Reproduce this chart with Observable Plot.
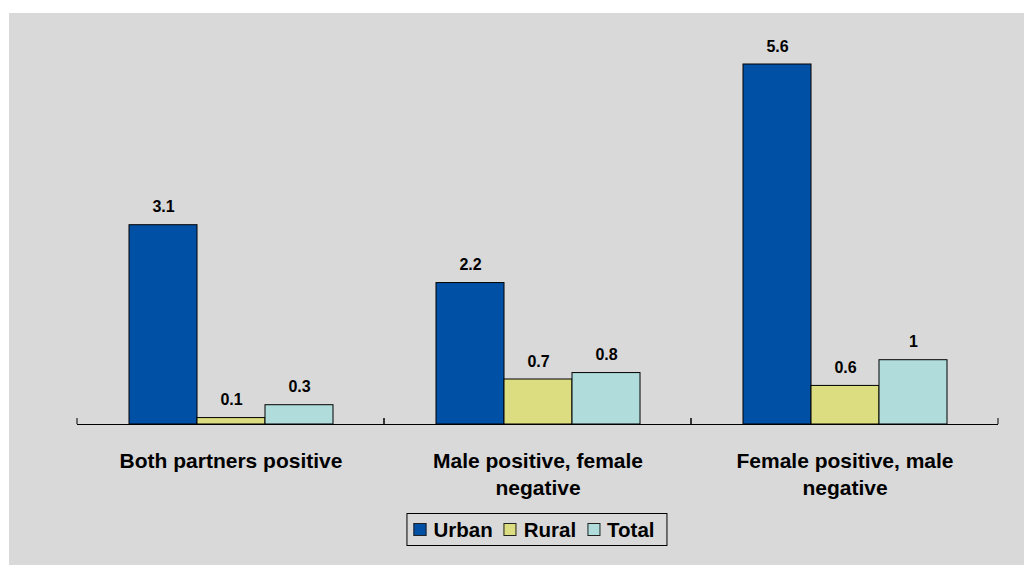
<!DOCTYPE html>
<html><head><meta charset="utf-8">
<script src="https://cdn.jsdelivr.net/npm/d3@7"></script>
<script src="https://cdn.jsdelivr.net/npm/@observablehq/plot@0.6"></script>
<style>
html,body{margin:0;padding:0;background:#fff;width:1024px;height:567px;overflow:hidden;}
#panel{position:absolute;left:9px;top:13px;width:1015px;height:552px;background:#d9d9d9;font-family:"Liberation Sans",Arial,sans-serif;}
#chart{position:absolute;left:0;top:0;}
#legend{position:absolute;top:500px;left:528px;transform:translateX(-50%);display:flex;align-items:center;border:1px solid #000;background:#d9d9d9;padding:0 12px 0 6px;height:31px;white-space:nowrap;font-weight:bold;font-size:20.5px;color:#000;}
#legend .item{display:flex;align-items:center;margin-right:11px;}
#legend .item:last-child{margin-right:0;}
#legend .sw{width:11px;height:11px;border:1px solid #222;margin-right:7px;}
</style>
</head><body>
<div id="panel"><div id="chart"></div><div id="legend"></div></div>
<script>
const categories = ["Both partners positive", "Male positive, female negative", "Female positive, male negative"];
const tickLabels = ["Both partners positive", "Male positive, female\nnegative", "Female positive, male\nnegative"];
const series = ["Urban", "Rural", "Total"];
const urban = [3.1, 2.2, 5.6];
const rural = [0.1, 0.7, 0.6];
const total = [0.3, 0.8, 1];
const colors = ["#0050a6", "#dcdc80", "#b0dcdc"];

const valuesBySeries = [urban, rural, total];
const data = categories.flatMap((c, i) => series.map((s, j) => ({category: c, series: s, value: valuesBySeries[j][i]})));

function boundaryTicks(index, scales, values, dims) {
  const g = d3.create("svg:g");
  const y0 = scales.y(0);
  for (const x of [dims.marginLeft, dims.width - dims.marginRight]) {
    g.append("line").attr("x1", x).attr("x2", x).attr("y1", y0 - 6).attr("y2", y0)
      .attr("stroke", "#000").attr("stroke-width", 1);
  }
  return g.node();
}

const chart = Plot.plot({
  width: 1015,
  height: 490,
  marginLeft: 68,
  marginRight: 26,
  marginTop: 51,
  marginBottom: 79,
  style: {background: "transparent", fontFamily: "'Liberation Sans', Arial, sans-serif", color: "#000"},
  fx: {domain: categories, padding: 0, axis: null, label: null},
  x: {domain: series, paddingInner: 0, paddingOuter: 0.75, axis: null, label: null},
  y: {domain: [0, 5.6], axis: null, label: null},
  color: {domain: series, range: colors},
  marks: [
    Plot.barY(data, {fx: "category", x: "series", y: "value", fill: "series", stroke: "#000", strokeWidth: 1}),
    Plot.ruleY([0], {stroke: "#000", strokeWidth: 1}),
    boundaryTicks,
    Plot.text(data, {fx: "category", x: "series", y: "value", text: d => String(d.value), dy: -13, lineAnchor: "bottom", fontSize: 16, fontWeight: "bold", fill: "#000"}),
    Plot.text(categories, {fx: d => d, text: (d, i) => tickLabels[i], frameAnchor: "bottom", lineAnchor: "top", dy: 25, fontSize: 21, fontWeight: "bold", lineHeight: 1.26, fill: "#000"})
  ]
});
document.getElementById("chart").appendChild(chart);

const legend = d3.select("#legend");
series.forEach((s, i) => {
  const item = legend.append("div").attr("class", "item");
  item.append("div").attr("class", "sw").style("background", colors[i]);
  item.append("span").text(s);
});
</script>
</body></html>
